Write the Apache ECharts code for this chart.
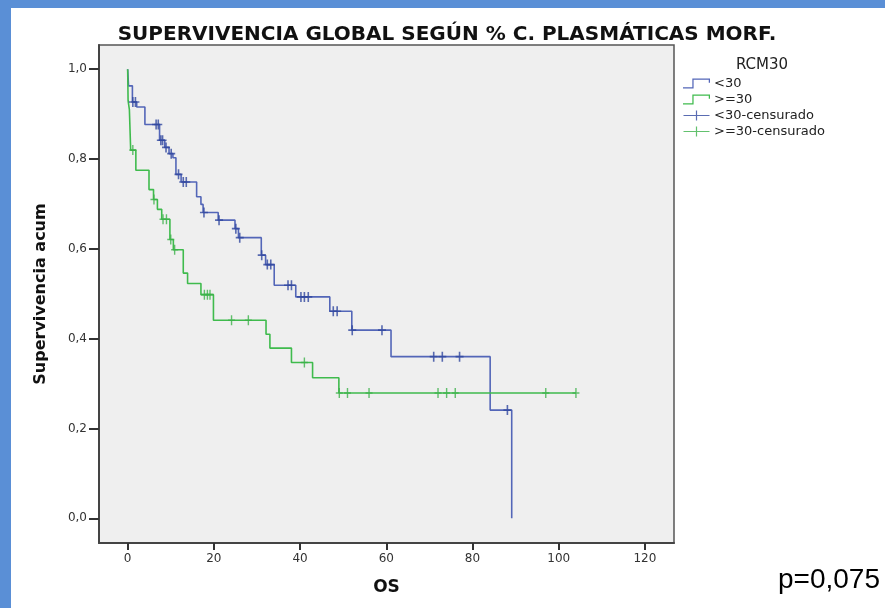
<!DOCTYPE html>
<html>
<head>
<meta charset="utf-8">
<script src="https://cdn.jsdelivr.net/npm/echarts@6/dist/echarts.min.js"></script>
<style>html,body{margin:0;padding:0;background:#fff}#c{width:885px;height:608px}</style>
</head>
<body>
<div id="c"></div>
<script>
// ---- data ----
const groupNames = ['<30', '>=30'];
const censorNames = ['<30-censurado', '>=30-censurado'];

const blueTimes = [0, 0.2, 1.1, 2.1, 4.0, 7.4, 8.6, 9.6, 10.5, 11.2, 12.4, 16.0, 17.0, 17.5, 21.0, 24.9, 25.7, 31.0, 32.0, 34.0, 39.0, 46.9, 52.0, 61.1, 84.1, 89.1];
const blueSurv  = [1.0, 0.963, 0.927, 0.916, 0.877, 0.842, 0.826, 0.812, 0.803, 0.766, 0.749, 0.716, 0.699, 0.681, 0.664, 0.645, 0.625, 0.586, 0.565, 0.519, 0.493, 0.461, 0.419, 0.360, 0.241, 0.0];
const blueCensored = [1.2, 1.8, 6.6, 7.1, 7.7, 8.1, 8.9, 10.1, 11.8, 12.9, 13.6, 17.7, 21.2, 25.1, 26.0, 31.1, 32.4, 33.2, 37.2, 38.0, 40.2, 41.0, 41.9, 47.7, 48.6, 52.1, 59.0, 71.0, 73.0, 77.0, 88.1];

const greenTimes = [0, 0.1, 0.4, 0.7, 1.9, 4.95, 6.0, 6.9, 7.9, 9.8, 10.6, 12.9, 13.9, 17.0, 19.9, 32.1, 33.0, 38.0, 42.9, 49.0, 104.0];
const greenSurv  = [1.0, 0.93, 0.91, 0.82, 0.775, 0.732, 0.710, 0.688, 0.666, 0.621, 0.598, 0.546, 0.523, 0.498, 0.441, 0.410, 0.379, 0.347, 0.313, 0.279, 0.279];
const greenCensored = [1.2, 6.1, 8.2, 9.0, 10.0, 10.9, 17.8, 18.5, 19.1, 24.1, 28.0, 41.0, 49.1, 51.0, 56.0, 72.0, 74.0, 76.0, 97.0, 104.0];

const xTicks = [0, 20, 40, 60, 80, 100, 120];
const yTicks = [0.0, 0.2, 0.4, 0.6, 0.8, 1.0];

const titleText = 'SUPERVIVENCIA GLOBAL SEGÚN % C. PLASMÁTICAS MORF.';
const legendTitle = 'RCM30';
const xName = 'OS';
const yName = 'Supervivencia acum';
const pText = 'p=0,075';

// ---- build ----
function pairs(ts, ss) { return ts.map((t, i) => [t, ss[i]]); }
function survAt(ts, ss, t) {
  let v = ss[0];
  for (let i = 0; i < ts.length; i++) { if (ts[i] <= t) v = ss[i]; }
  return v;
}
function censorPts(cs, ts, ss) { return cs.map(t => [t, survAt(ts, ss, t)]); }

const BLUE = '#5366b8', BLUE_D = '#31479f', GREEN = '#3fbb4d', GREEN_D = '#3cb24a';
const stepIcon = 'path://M0,8.8 L9,8.8 L9,0.4 L26,0.4 L26,4.5 L24.8,4.5 L24.8,1.6 L10.2,1.6 L10.2,10 L0,10 Z';
const crossIcon = 'path://M0,4.4 L26,4.4 L26,5.6 L0,5.6 Z M12.4,0 L13.6,0 L13.6,10 L12.4,10 Z';
const crossSym = 'path://M0,4.2 L8,4.2 L8,5.8 L0,5.8 Z M3.2,0 L4.8,0 L4.8,10 L3.2,10 Z';

const chart = echarts.init(document.getElementById('c'), null, {renderer: 'canvas'});
chart.setOption({
  animation: false,
  backgroundColor: '#ffffff',
  title: [{
    text: titleText, left: 442, top: 20, textAlign: 'center',
    textStyle: {fontFamily: 'DejaVu Sans', fontWeight: 'bold', fontSize: 20, color: '#111'}
  }, {
    text: legendTitle, left: 757, top: 53, textAlign: 'center',
    textStyle: {fontFamily: 'DejaVu Sans', fontWeight: 'normal', fontSize: 15, color: '#222'}
  }],
  legend: {
    orient: 'vertical', left: 678, top: 72,
    itemWidth: 27, itemHeight: 10, itemGap: 3,
    textStyle: {fontFamily: 'DejaVu Sans', fontSize: 13, color: '#222', lineHeight: 10, padding: [0,0,0,-1]},
    data: [
      {name: groupNames[0], icon: stepIcon},
      {name: groupNames[1], icon: stepIcon},
      {name: censorNames[0], icon: crossIcon},
      {name: censorNames[1], icon: crossIcon}
    ]
  },
  grid: {
    left: 99, right: 211, top: 45, bottom: 65, show: true,
    backgroundColor: '#efefef', borderColor: '#555', borderWidth: 1.5
  },
  xAxis: {
    type: 'value', min: -6.65, max: 126.75,
    name: xName, nameLocation: 'middle', nameGap: 36,
    nameTextStyle: {fontFamily: 'DejaVu Sans', fontWeight: 'bold', fontSize: 17, color: '#111'},
    axisLine: {show: true, onZero: false, lineStyle: {color: '#444', width: 2}},
    axisTick: {show: true, length: 7, lineStyle: {color: '#333', width: 2}, customValues: xTicks},
    axisLabel: {customValues: xTicks, margin: 10, fontFamily: 'DejaVu Sans', fontSize: 12, color: '#333'},
    splitLine: {show: false}
  },
  yAxis: {
    type: 'value', min: -0.055, max: 1.054,
    name: yName, nameLocation: 'middle', nameGap: 50, nameRotate: 90,
    nameTextStyle: {fontFamily: 'DejaVu Sans', fontWeight: 'bold', fontSize: 16, color: '#111'},
    axisLine: {show: true, onZero: false, lineStyle: {color: '#444', width: 2}},
    axisTick: {show: true, length: 10, lineStyle: {color: '#333', width: 2}, customValues: yTicks},
    axisLabel: {customValues: yTicks, margin: 12, fontFamily: 'DejaVu Sans', fontSize: 12, color: '#333',
      formatter: v => v.toFixed(1).replace('.', ',')},
    splitLine: {show: false}
  },
  series: [
    {name: groupNames[0], type: 'line', step: 'end', showSymbol: false, symbol: 'none',
     data: pairs(blueTimes, blueSurv), color: BLUE, lineStyle: {color: BLUE, width: 1.6}, z: 2},
    {name: groupNames[1], type: 'line', step: 'end', showSymbol: false, symbol: 'none',
     data: pairs(greenTimes, greenSurv), color: GREEN, lineStyle: {color: GREEN, width: 1.6}, z: 3},
    {name: censorNames[0], type: 'scatter', symbol: crossSym, symbolSize: [8, 10],
     data: censorPts(blueCensored, blueTimes, blueSurv), color: BLUE_D, itemStyle: {color: BLUE_D}, z: 4},
    {name: censorNames[1], type: 'scatter', symbol: crossSym, symbolSize: [7, 10],
     data: censorPts(greenCensored, greenTimes, greenSurv), color: GREEN_D, itemStyle: {color: GREEN_D}, z: 4}
  ],
  graphic: [
    {type: 'rect', left: 0, top: 0, shape: {width: 885, height: 8}, style: {fill: '#5a8fd6'}, z: 100},
    {type: 'rect', left: 0, top: 0, shape: {width: 11, height: 608}, style: {fill: '#5a8fd6'}, z: 100},
    {type: 'text', left: 778, top: 566, style: {text: pText, font: '28px "Liberation Sans"', fill: '#000'}, z: 100}
  ]
});
</script>
</body>
</html>
